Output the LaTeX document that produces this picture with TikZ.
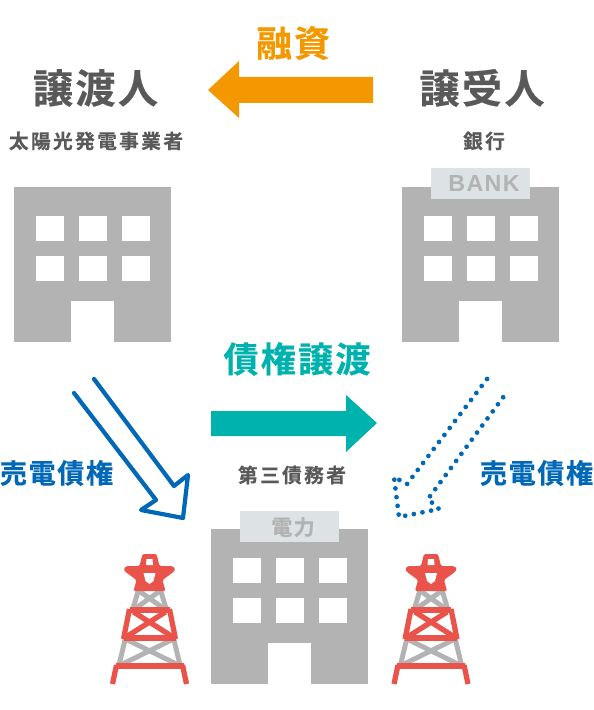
\documentclass[tikz,border=0pt]{standalone}
\usepackage{fontspec}
\setmainfont{Noto Sans CJK JP}
\newfontfamily\jpbold[LetterSpace=6,FakeBold=0.4]{Noto Sans CJK JP Bold}
\newfontfamily\jpwide[LetterSpace=12,FakeBold=0.4]{Noto Sans CJK JP Bold}
\newfontfamily\latinbold[LetterSpace=6]{Liberation Sans}
\definecolor{darktext}{HTML}{595959}
\definecolor{loanorange}{HTML}{F39800}
\definecolor{sellblue}{HTML}{0068B7}
\definecolor{claimteal}{HTML}{00B2AD}
\definecolor{towerred}{HTML}{E9534A}
\definecolor{wallgrey}{HTML}{B3B3B3}
\definecolor{signgrey}{HTML}{DDE2E5}
\tikzset{
	titletext/.style={text=darktext,font=\jpbold\fontsize{11.4pt}{13pt}\selectfont,inner sep=0pt},
	subtext/.style={text=darktext,font=\jpwide\fontsize{5.6pt}{7pt}\selectfont,inner sep=0pt},
	selltext/.style={text=sellblue,font=\jpbold\fontsize{7.7pt}{9pt}\selectfont,inner sep=0pt},
	signtext/.style={text=wallgrey,inner sep=0pt},
	towerbar/.style={draw=towerred,line width=1.5pt},
	towergrey/.style={draw=wallgrey,line width=1.4pt},
}
\begin{document}
\begin{tikzpicture}[x=0.01cm,y=-0.01cm]
	\useasboundingbox (0,0) rectangle (593,710);

	% Textos superiores
	\node[text=loanorange,font=\jpbold\fontsize{10.2pt}{12pt}\selectfont,inner sep=0pt] (loanlabel) at (293,43) {融資};
	\node[titletext] (sellerlabel) at (95.5,88) {譲渡人};
	\node[titletext] (buyerlabel) at (482,88) {譲受人};
	\node[subtext] (sellersub) at (96,141) {太陽光発電事業者};
	\node[subtext] (buyersub) at (484,141) {銀行};

	% Flecha de financiación
	\coordinate (loantail) at (373,90);
	\fill[loanorange] (loantail) ++(0,-13) -- ++(-134,0) -- ++(0,-16) -- (208,90) -- (239,118) -- (239,103) -- (373,103) -- cycle;

	% Edificios
	\foreach \bx/\by in {0/0,387.5/0,197/342}{
		\begin{scope}[shift={(\bx,\by)}]
			\fill[wallgrey] (14,187) rectangle (171,342);
			\foreach \wx in {36,79,122}{
				\fill[white] (\wx,216) rectangle ++(28,25);
				\fill[white] (\wx,256) rectangle ++(28,25);
			}
			\fill[white] (71,301) rectangle (114,342);
		\end{scope}
	}

	% Carteles
	\fill[signgrey] (431,168) rectangle (530,199);
	\node[signtext,font=\latinbold\bfseries\fontsize{6.6pt}{8pt}\selectfont] (banksign) at (484,184) {BANK};
	\fill[signgrey] (240,511) rectangle (339,542);
	\node[signtext,font=\jpbold\fontsize{6pt}{7pt}\selectfont] (powersign) at (293,527) {電力};

	% Cesión de créditos
	\node[text=claimteal,font=\jpbold\fontsize{10pt}{12pt}\selectfont,inner sep=0pt] (claimlabel) at (297,359) {債権譲渡};
	\coordinate (claimtail) at (211,423);
	\fill[claimteal] (claimtail) ++(0,-12) -- ++(135,0) -- ++(0,-16) -- (377,423) -- (346,452) -- (346,436) -- (211,436) -- cycle;

	\node[subtext] (debtorlabel) at (292,475) {第三債務者};
	\node[selltext] (sellleft) at (56.5,473) {売電債権};
	\node[selltext] (sellright) at (536.5,473) {売電債権};

	% Flecha azul
	\coordinate (bluea) at (94,379);
	\coordinate (blueb) at (174,486);
	\coordinate (bluec) at (188,475);
	\coordinate (blued) at (183,518);
	\coordinate (bluee) at (141,510);
	\coordinate (bluef) at (156,500);
	\coordinate (blueg) at (74,393);
	\draw[sellblue,line width=1.2pt,line cap=round,line join=round] (bluea) -- (blueb) -- (bluec) -- (blued) -- (bluee) -- (bluef) -- (blueg);

	% Flecha punteada
	\coordinate (dota) at (487,379);
	\coordinate (dotb) at (407,484);
	\coordinate (dotc) at (394,477);
	\coordinate (dotd) at (399,517);
	\coordinate (dote) at (439,509);
	\coordinate (dotf) at (428,499);
	\coordinate (dotg) at (507,392);
	\draw[sellblue,line width=1.35pt,line cap=round,dash pattern=on 0pt off 2.5pt] (dota) -- (dotb) -- (dotc) -- (dotd) -- (dote) -- (dotf) -- (dotg);

	% Torres
	\foreach \tx in {149.5,431}{
		\begin{scope}[shift={(\tx,0)}]
			% partes grises
			\draw[towergrey] (-11,590) -- (-17,610) (11,590) -- (17,610);
			\draw[towergrey] (-9,592) -- (15,609) (9,592) -- (-15,609);
			\draw[towergrey] (-24,638) -- (-31,667) (24,638) -- (31,667);
			\draw[towergrey] (-22,640) -- (29,665) (22,640) -- (-29,665);
			% estrella
			\fill[towerred,rounded corners=0.4pt] (-7,554) -- (7,554) -- (10,566) -- (23,566) -- (26,569) -- (24,572) -- (13,580) -- (16,591) -- (-16,591) -- (-13,580) -- (-24,572) -- (-26,569) -- (-23,566) -- (-10,566) -- cycle;
			\fill[white] (-3,559) -- (3,559) -- (3.5,565) -- (-3.5,565) -- cycle;
			\fill[white] (-6,573) -- (6,573) -- (4,581) -- (0,584) -- (-4,581) -- cycle;
			% partes rojas
			\draw[towerbar] (-20,610) -- (20,610) (-26,638) -- (26,638);
			\draw[towerbar] (-20,609) -- (-26,639) (20,609) -- (26,639);
			\draw[towerbar] (-16,612) -- (22,636) (16,612) -- (-22,636);
			\draw[towerbar] (-34,666) -- (34,666);
			\draw[towerbar] (-33,665) -- (-37,684) (33,665) -- (37,684);
		\end{scope}
	}
\end{tikzpicture}
\end{document}
